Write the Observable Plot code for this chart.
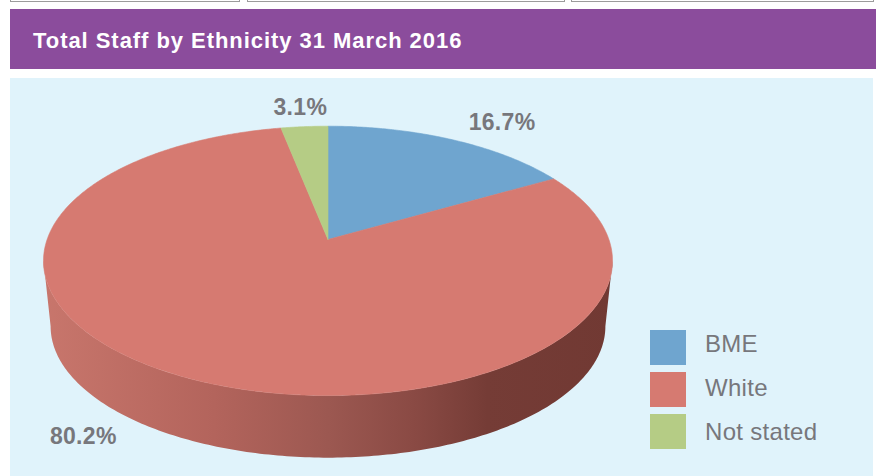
<!DOCTYPE html>
<html><head><meta charset="utf-8">
<script src="https://cdn.jsdelivr.net/npm/d3@7"></script>
<script src="https://cdn.jsdelivr.net/npm/@observablehq/plot@0.6"></script>
<style>
html,body{margin:0;padding:0;}
body{background:#fff;width:879px;height:476px;overflow:hidden;position:relative;font-family:"Liberation Sans",Arial,Helvetica,sans-serif;}
.tab{position:absolute;top:-20px;height:20px;border:1px solid #9c9c9c;background:#fff;box-sizing:content-box;}
#header{position:absolute;left:10px;top:9px;width:866px;height:60px;background:#8b4c9c;}
#title{position:absolute;left:23px;top:21px;color:#fff;font-weight:bold;font-size:22px;line-height:1;letter-spacing:0.95px;white-space:nowrap;}
#panel{position:absolute;left:10px;top:78px;width:863px;height:398px;background:#e0f3fb;overflow:hidden;}
#panel svg{position:absolute;left:0;top:0;}
.sw{position:absolute;width:36px;height:35px;}
.lt{position:absolute;font-size:24px;line-height:1;color:#77777c;white-space:nowrap;letter-spacing:0.3px;}
</style></head>
<body>
<div class="tab" style="left:10px;width:228px"></div>
<div class="tab" style="left:247px;width:316px"></div>
<div class="tab" style="left:571px;width:301px"></div>
<div id="header"><div id="title">Total Staff by Ethnicity 31 March 2016</div></div>
<div id="panel"></div>
<script>
// ---- data ----
const categories = ["BME", "White", "Not stated"];
const values = [16.7, 80.2, 3.1];
const valueLabels = ["16.7%", "80.2%", "3.1%"];
const colors = ["#6fa5cf", "#d67a71", "#b5cc85"];

// ---- layout / 3D look ----
const W = 863, H = 398;
const apexX = 317.5, apexY = 161;   // projected pie centre in svg px
const rx = 280.9, ry = 131.3;       // projected radii
const k = 0.1586;                   // perspective factor
const depthPx = 66, bottomScale = 0.975;
const dyU = depthPx / ry;

function proj(theta, r) {
  const u = r * Math.sin(theta), v = r * Math.cos(theta);
  const d = 1 + k * v;
  return {x: u / d, y: v / d};
}
function projBottom(theta) {
  const p = proj(theta, 1);
  return {x: bottomScale * p.x, y: bottomScale * p.y - dyU};
}

const arcs = d3.pie().sort(null).value(d => d)(values);
const step = Math.PI / 360;
function slicePoints(a) {
  const pts = [{x: 0, y: 0}];
  const n = Math.max(2, Math.ceil((a.endAngle - a.startAngle) / step));
  for (let i = 0; i <= n; i++) {
    pts.push(proj(a.startAngle + (a.endAngle - a.startAngle) * i / n, 1));
  }
  pts.push({x: 0, y: 0});
  return pts;
}

// side silhouette (front part of the cylinder)
const thR = Math.acos(-k), thL = 2 * Math.PI - Math.acos(-k);
const side = [];
const ns = 200;
for (let i = 0; i <= ns; i++) side.push(proj(thR + (thL - thR) * i / ns, 1));
for (let i = ns; i >= 0; i--) side.push(projBottom(thR + (thL - thR) * i / ns));

// labels
const labelData = arcs.map((a, i) => {
  const mid = (a.startAngle + a.endAngle) / 2;
  const u = Math.sin(mid), v = Math.cos(mid);
  const p = proj(mid, 1.22);
  const low = Math.max(0, -v), high = Math.max(0, v);
  const hx = 1 + 0.6 * low * Math.abs(u) - 0.1 * high * Math.abs(u);
  return {
    x: p.x * hx,
    y: p.y - 0.3 * dyU * low - 0.015,
    text: valueLabels[i],
    anchor: u < -0.3 ? "end" : u > 0.3 ? "start" : "middle"
  };
});

const marks = [
  Plot.line(side, {x: "x", y: "y", fill: "url(#sideGrad)", stroke: "none", curve: "linear"}),
  ...arcs.map((a, i) => Plot.line(slicePoints(a), {x: "x", y: "y", fill: colors[i], stroke: colors[i], strokeWidth: 0.6, curve: "linear"})),
  ...labelData.map(d => Plot.text([d], {x: "x", y: "y", text: "text", textAnchor: d.anchor, fill: "#77777c",
      fontWeight: "bold", fontSize: 23, fontFamily: "Liberation Sans, Arial, sans-serif", lineAnchor: "middle"}))
];

const svg = Plot.plot({
  width: W, height: H,
  margin: 0,
  style: {background: "transparent", overflow: "visible"},
  x: {domain: [-1, 1], range: [apexX - rx, apexX + rx], axis: null},
  y: {domain: [-1, 1], range: [apexY + ry, apexY - ry], axis: null},
  marks
});
d3.select(svg).selectAll("text").attr("letter-spacing", "0.3px");
const defs = d3.select(svg).insert("defs", ":first-child");
const g = defs.append("linearGradient").attr("id", "sideGrad").attr("x1", 0).attr("x2", 1).attr("y1", 0).attr("y2", 0);
[[0, "#c8766c"], [0.3, "#b3645c"], [0.5, "#9c5851"], [0.65, "#8a4a44"], [0.78, "#753c36"], [1, "#713933"]]
  .forEach(([o, c]) => g.append("stop").attr("offset", o).attr("stop-color", c));
const panel = document.getElementById("panel");
panel.appendChild(svg);

// legend
categories.forEach((c, i) => {
  const s = document.createElement("div");
  s.className = "sw";
  s.style.left = (650 - 10) + "px";
  s.style.top = (330 - 78 + i * 42) + "px";
  s.style.background = colors[i];
  panel.appendChild(s);
  const t = document.createElement("div");
  t.className = "lt";
  t.textContent = c;
  t.style.left = (705 - 10) + "px";
  t.style.top = (352 - 78 + i * 44 - 20.3) + "px";
  panel.appendChild(t);
});
</script>
</body></html>
